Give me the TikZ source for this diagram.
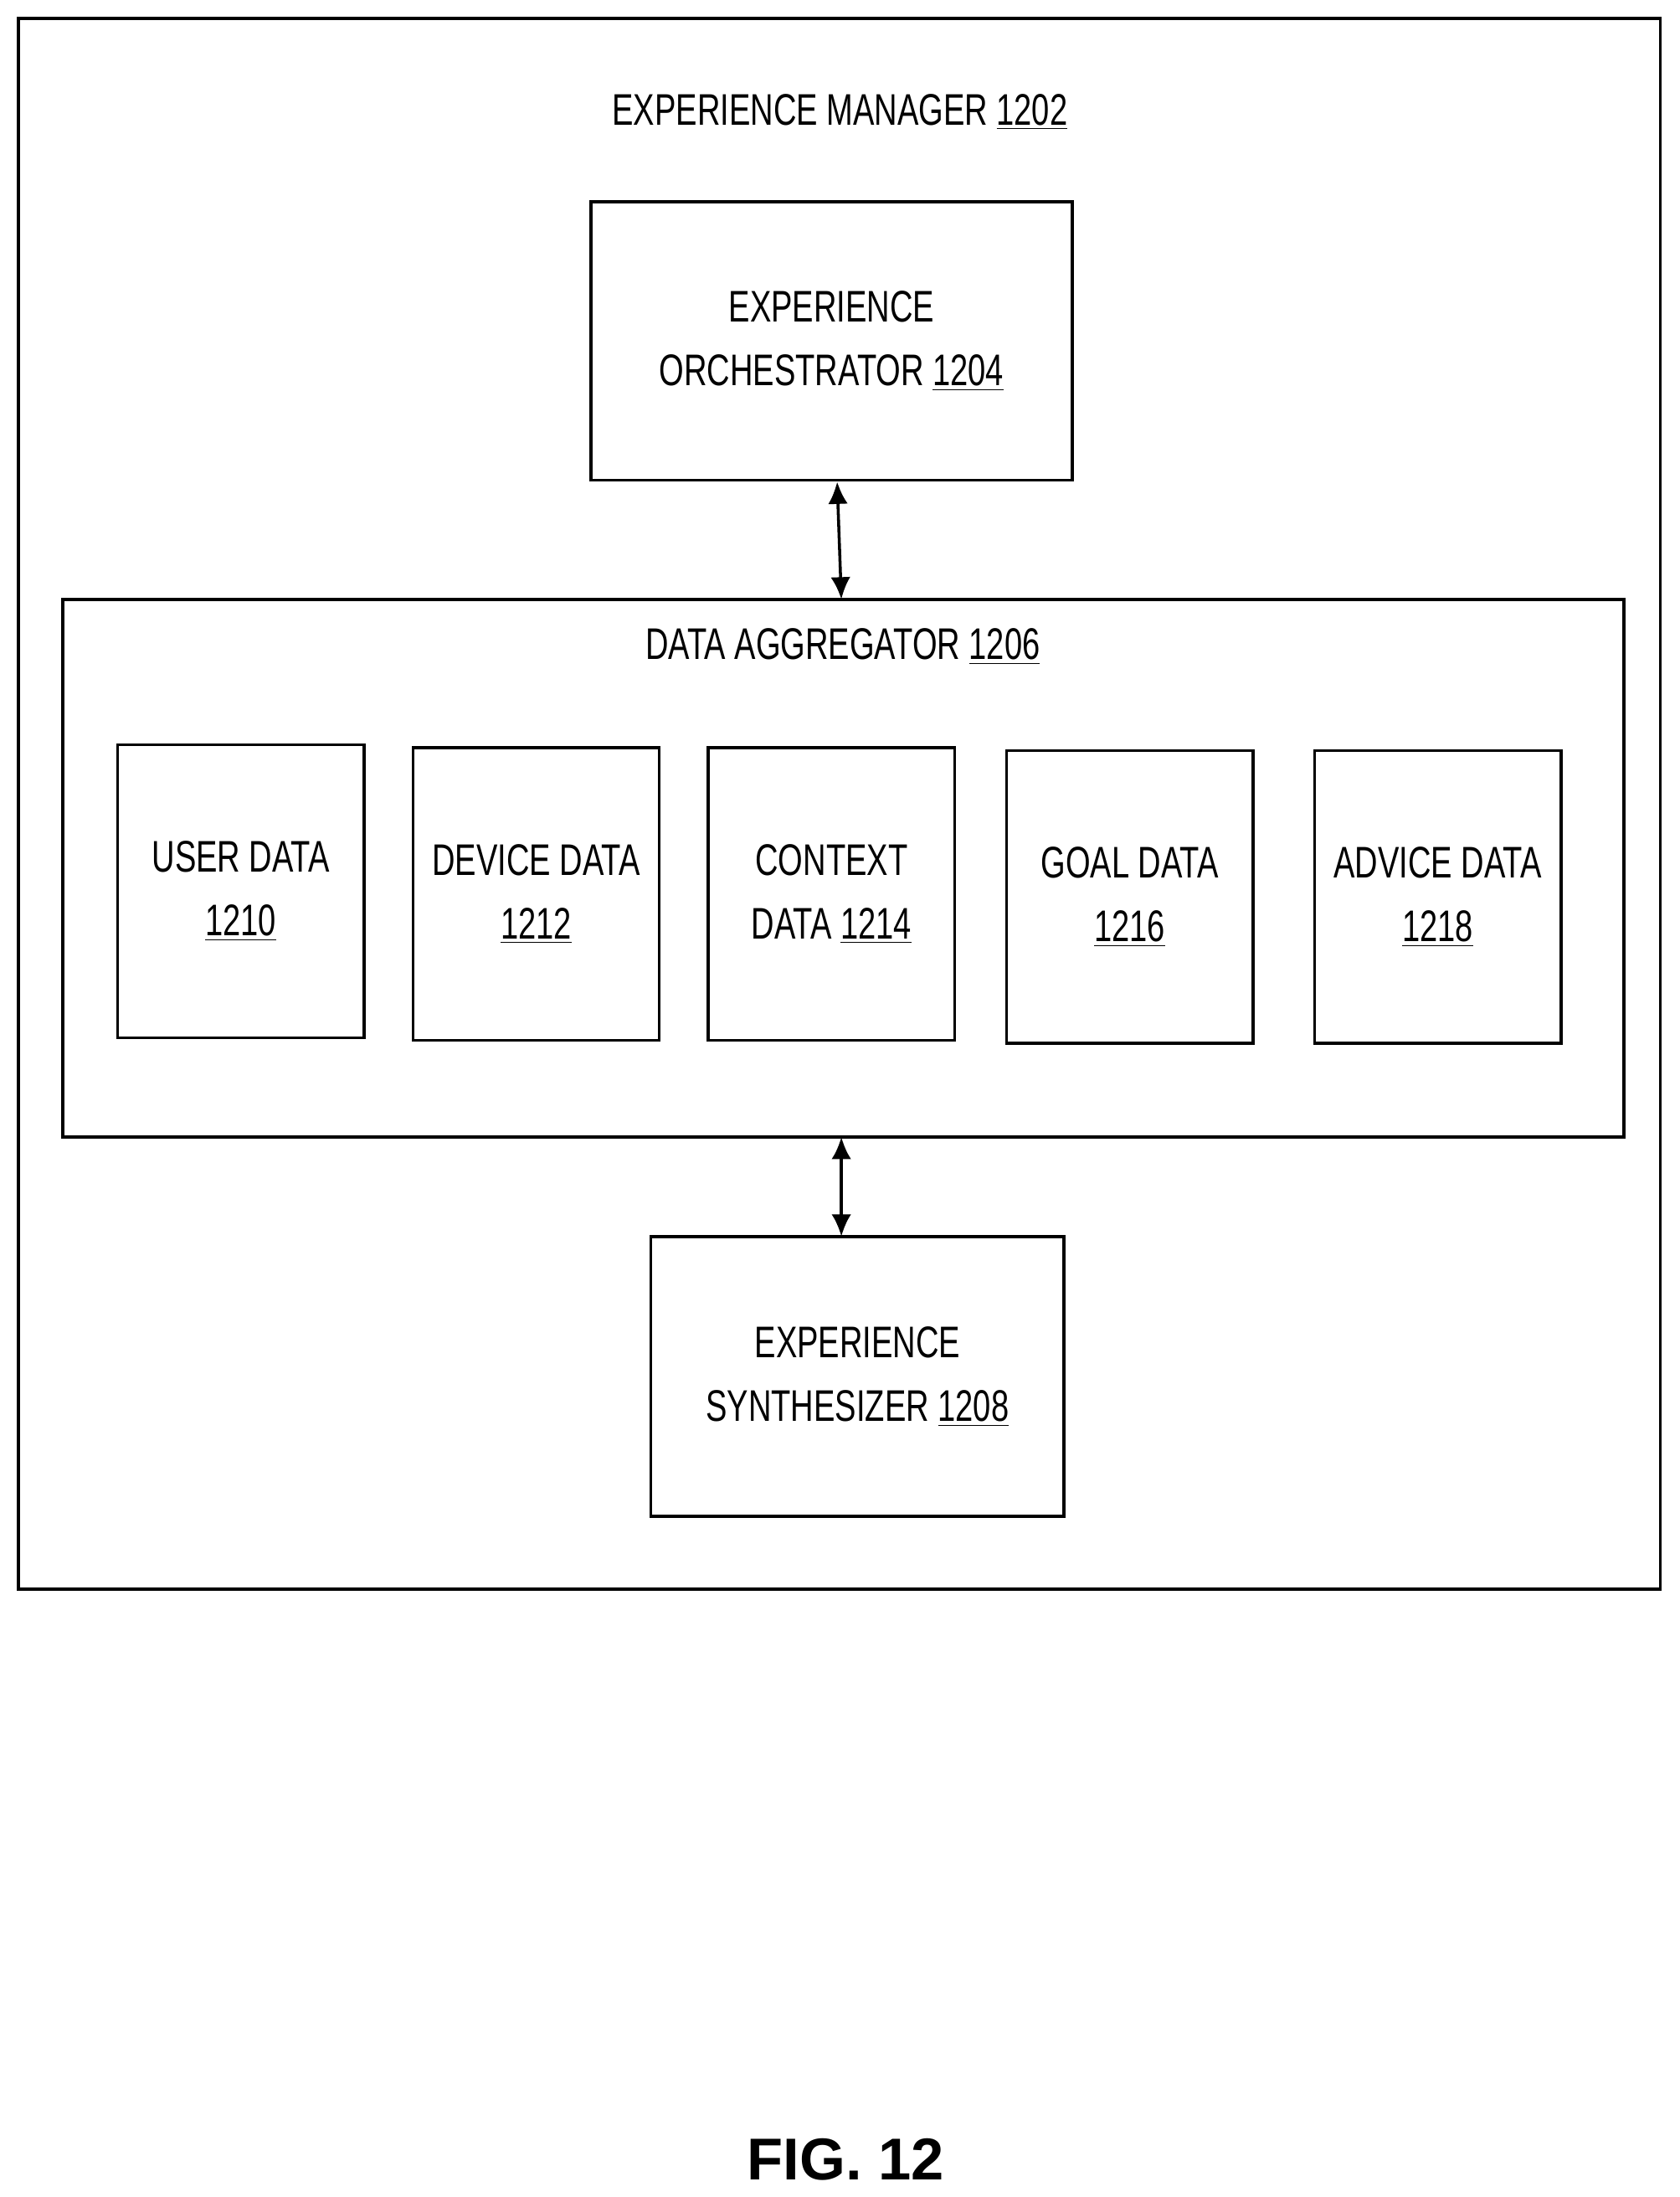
\documentclass[tikz,border=0pt]{standalone}
\usepackage{fontspec}
\setmainfont{Liberation Sans}[FakeStretch=0.72]
\newfontfamily\figfont{Liberation Sans}
\usetikzlibrary{arrows.meta}
\tikzset{
  blk/.style={draw, line width=1.2pt, inner sep=0pt, align=center,
    font=\fontsize{18}{26}\selectfont},
  lbl/.style={font=\fontsize{18}{26}\selectfont, inner sep=0pt},
  link/.style={line width=1.2pt, {Latex[length=9pt,width=8pt]}-{Latex[length=9pt,width=8pt]}}
}
\newcommand{\ul}[1]{\underline{#1}}
\begin{document}
\begin{tikzpicture}[x=0.02cm,y=-0.02cm]
\useasboundingbox (0,0) rectangle (1200,1569);
% outer frame
\draw[line width=1.2pt] (13,13) rectangle (1186,1135);
\node[lbl] (mgr) at (600,80) {EXPERIENCE MANAGER \ul{1202}};
\node[blk, minimum width=344*0.02cm, minimum height=199*0.02cm] (orch) at (594,243.5)
  {EXPERIENCE\\ORCHESTRATOR \ul{1204}};
\node[blk, minimum width=1115*0.02cm, minimum height=384*0.02cm] (agg) at (602.5,620) {};
\node[lbl] (aggt) at (602,462) {DATA AGGREGATOR \ul{1206}};
% data stores
\node[blk, minimum width=176*0.02cm, minimum height=209*0.02cm] (user) at (172,636.5) {USER DATA\\\ul{1210}};
\node[blk, minimum width=176*0.02cm, minimum height=209*0.02cm] (device) at (383,638.5) {DEVICE DATA\\\ul{1212}};
\node[blk, minimum width=176*0.02cm, minimum height=209*0.02cm] (context) at (594,638.5) {CONTEXT\\DATA \ul{1214}};
\node[blk, minimum width=176*0.02cm, minimum height=209*0.02cm] (goal) at (807,640.5) {GOAL DATA\\\ul{1216}};
\node[blk, minimum width=176*0.02cm, minimum height=209*0.02cm] (advice) at (1027,640.5) {ADVICE DATA\\\ul{1218}};
\node[blk, minimum width=295*0.02cm, minimum height=200*0.02cm] (synth) at (612.5,983)
  {EXPERIENCE\\SYNTHESIZER \ul{1208}};
\coordinate (top) at (601,428);
\coordinate (bot) at (601,812);
\coordinate (syn) at (601,883);
\draw[link] ([xshift=4*0.02cm]orch.south) -- (top);
\draw[link] (bot) -- (syn);
\node[font=\figfont\bfseries\fontsize{24}{28}\selectfont] (fig) at (604,1542) {FIG. 12};
\end{tikzpicture}
\end{document}
